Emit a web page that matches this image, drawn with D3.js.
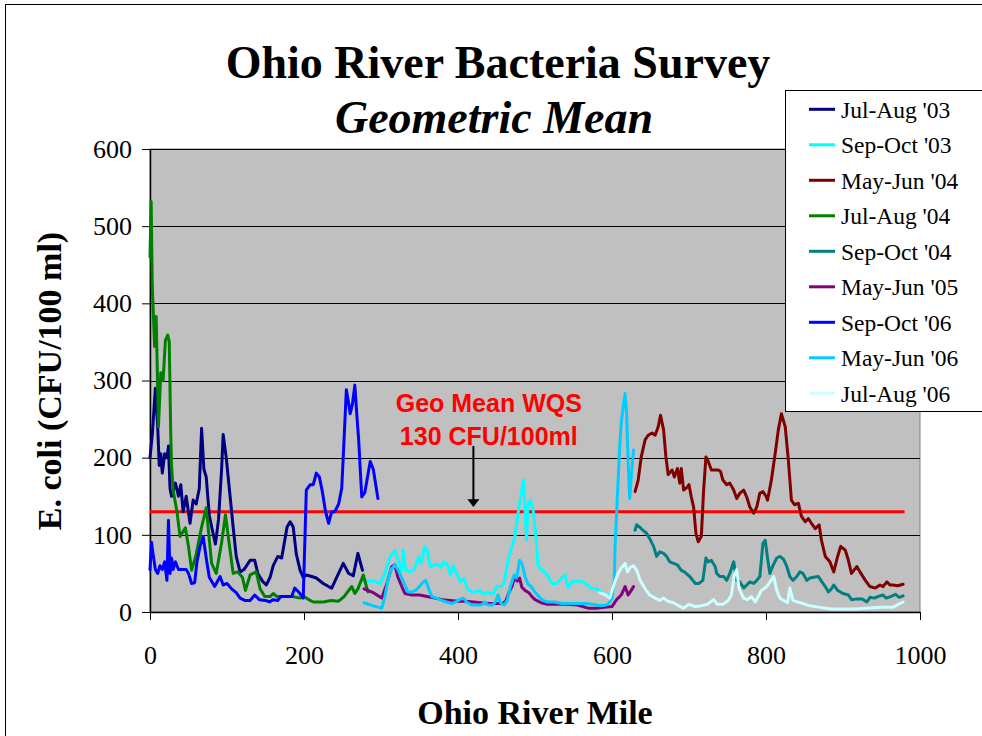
<!DOCTYPE html>
<html><head><meta charset="utf-8">
<script src="https://cdn.jsdelivr.net/npm/d3@7/dist/d3.min.js"></script>
<style>
html,body{margin:0;padding:0;background:#fff;}
svg{display:block;}
</style></head>
<body>
<svg id="chart" width="982" height="736"></svg>
<script>
// ---------- data (river mile, E. coli geometric mean) ----------
const seriesNames = ["Jul-Aug '03","Sep-Oct '03","May-Jun '04","Jul-Aug '04","Sep-Oct '04","May-Jun '05","Sep-Oct '06","May-Jun '06","Jul-Aug '06"];
const seriesColors = ["#000080","#00FFFF","#800000","#008000","#008080","#800080","#0000FF","#00CCFF","#CCFFFF"];

const julAug03 = [[0,200],[3,230],[7,290],[10,240],[12,190],[14,205],[16,180],[19,205],[22,200],[24,215],[26,160],[28,150],[31,160],[33,167],[37,150],[40,165],[43,130],[47,150],[52,115],[56,145],[60,140],[64,160],[67,238],[70,185],[73,175],[77,125],[81,106],[85,88],[89,120],[93,185],[95,230],[99,200],[104,150],[108,110],[112,72],[117,52],[122,55],[130,67],[136,67],[140,50],[146,40],[151,35],[156,45],[160,60],[166,72],[171,70],[178,110],[182,117],[186,110],[190,75],[195,54],[199,45],[203,48],[210,46],[216,44],[225,37],[232,33],[236,31],[242,44],[251,63],[258,50],[264,47],[270,76],[276,54]];

const sepOct03 = [[278,40],[290,40],[299,37],[305,50],[312,72],[318,80],[323,65],[327,54],[329,80],[332,55],[337,52],[343,55],[346,63],[349,72],[352,63],[357,85],[360,80],[364,59],[368,60],[373,62],[378,58],[381,65],[386,62],[390,48],[394,60],[399,48],[403,39],[408,43],[412,30],[418,26],[424,26],[428,28],[433,24],[440,25],[446,24],[450,33],[456,33],[460,38],[465,67],[470,85],[474,98],[478,128],[483,158],[485,171],[487,132],[489,93],[491,141],[494,145],[498,130],[501,100],[504,60],[510,54],[516,48],[522,37],[528,37],[534,43],[539,48],[543,32],[549,40],[555,40],[561,40],[568,35],[574,30],[580,30],[589,24],[594,22],[597,22]];

const mayJun04 = [[630,156],[634,171],[638,201],[643,223],[647,229],[652,232],[656,229],[660,240],[663,255],[667,236],[670,201],[673,178],[678,184],[681,175],[685,186],[688,167],[690,186],[693,158],[698,162],[700,165],[703,149],[706,136],[709,102],[712,91],[716,98],[719,158],[722,201],[725,195],[729,184],[734,184],[738,184],[741,182],[744,171],[749,165],[753,167],[758,158],[762,147],[766,154],[771,158],[775,149],[779,136],[784,128],[788,136],[792,154],[796,156],[800,150],[802,145],[807,171],[812,206],[816,236],[820,257],[825,240],[829,197],[833,145],[837,139],[842,141],[846,124],[851,117],[855,121],[859,115],[864,108],[869,113],[872,93],[877,72],[883,65],[888,52],[893,72],[897,85],[903,80],[907,67],[911,50],[918,59],[922,52],[929,41],[935,33],[942,31],[948,35],[952,33],[957,39],[961,35],[965,35],[971,34],[978,36]];

const julAug04 = [[0,460],[1.5,532],[3,420],[4,396],[6,344],[8,383],[11,240],[14,310],[17,300],[20,352],[23,359],[25,350],[27,227],[28,190],[30,158],[35,130],[39,98],[46,109],[50,85],[54,54],[60,75],[67,110],[73,135],[75,115],[80,63],[86,50],[93,90],[98,126],[102,95],[108,50],[114,52],[120,45],[124,28],[130,48],[138,52],[143,30],[149,20],[156,20],[160,24],[165,20],[175,20],[185,20],[195,18],[200,20],[208,15],[212,13],[225,13],[235,15],[245,14],[252,20],[262,33],[266,24],[270,30],[277,48],[283,26]];

const sepOct04 = [[630,106],[632,113],[636,110],[640,106],[645,102],[649,95],[654,85],[658,72],[662,78],[667,76],[671,72],[675,65],[680,63],[685,61],[690,54],[694,52],[701,46],[708,37],[713,37],[718,41],[722,70],[725,65],[729,67],[734,59],[736,50],[740,46],[745,46],[749,41],[753,50],[758,65],[762,41],[766,39],[771,31],[775,35],[779,39],[784,37],[788,41],[792,46],[796,89],[799,93],[802,70],[805,50],[809,60],[814,70],[818,72],[823,68],[827,59],[831,46],[835,41],[840,46],[844,52],[848,50],[853,41],[857,44],[862,45],[868,46],[872,40],[877,33],[881,26],[885,30],[888,35],[893,28],[900,24],[907,22],[911,16],[918,17],[925,17],[931,13],[935,19],[941,18],[945,20],[952,22],[956,18],[962,20],[968,23],[973,19],[978,21]];

const mayJun05 = [[278,30],[290,25],[301,18],[308,38],[314,59],[318,61],[322,45],[327,33],[331,24],[340,22],[350,22],[360,20],[370,18],[380,16],[390,15],[400,14],[410,14],[420,13],[430,12],[440,11],[450,11],[458,11],[462,14],[466,25],[470,33],[474,46],[477,40],[480,44],[483,32],[487,28],[492,25],[496,20],[500,16],[508,12],[516,10],[525,10],[540,10],[555,9],[569,5],[580,5],[590,6],[600,7],[606,16],[612,22],[617,33],[621,22],[625,28],[628,33]];

const sepOct06 = [[0,55],[2,90],[4,75],[7,55],[10,50],[13,60],[16,55],[19,65],[22,41],[24,119],[26,50],[28,70],[30,55],[33,65],[37,55],[42,55],[47,55],[50,50],[54,37],[58,38],[61,65],[65,85],[69,98],[73,70],[77,45],[84,33],[91,46],[95,35],[100,37],[106,30],[112,25],[117,18],[123,15],[130,15],[136,22],[142,16],[150,15],[155,13],[160,16],[166,15],[170,20],[177,20],[184,20],[188,31],[193,26],[199,18],[203,158],[208,165],[212,165],[216,180],[220,175],[224,155],[228,130],[232,115],[236,130],[240,130],[245,140],[249,160],[252,223],[255,288],[258,270],[260,257],[263,270],[266,294],[269,250],[271,223],[275,149],[279,155],[286,195],[290,185],[296,147]];

const mayJun06 = [[278,12],[290,8],[301,5],[305,20],[309,41],[313,55],[318,61],[322,55],[327,44],[331,35],[335,26],[340,26],[345,28],[349,32],[355,39],[358,41],[362,30],[366,20],[372,18],[379,15],[385,13],[392,11],[397,13],[402,16],[407,18],[411,13],[418,9],[424,9],[430,9],[435,13],[439,9],[445,9],[448,12],[452,22],[455,12],[460,9],[464,15],[468,33],[473,48],[476,44],[480,67],[483,63],[487,46],[491,36],[495,33],[499,27],[505,20],[510,15],[516,13],[525,13],[535,11],[545,11],[555,11],[565,11],[575,10],[585,8],[593,9],[597,13],[600,18],[603,41],[604,85],[606,128],[608,171],[610,214],[612,245],[615,270],[617,283],[619,257],[621,193],[623,147],[625,175],[628,210]];

const julAug06 = [[584,25],[592,22],[597,18],[604,40],[608,50],[612,57],[617,63],[620,52],[624,58],[628,60],[632,54],[637,40],[643,30],[649,22],[656,18],[662,15],[667,18],[672,14],[680,12],[687,8],[693,5],[700,10],[708,7],[716,8],[724,10],[732,16],[737,10],[744,10],[751,15],[755,22],[759,48],[762,55],[765,30],[771,18],[776,16],[781,20],[786,13],[791,22],[794,28],[800,32],[806,40],[810,46],[814,28],[818,18],[823,15],[828,12],[831,31],[835,15],[841,13],[848,11],[857,8],[870,6],[885,4],[900,4],[915,4],[930,5],[950,6],[965,6],[972,10],[978,13]];

const seriesData = [julAug03, sepOct03, mayJun04, julAug04, sepOct04, mayJun05, sepOct06, mayJun06, julAug06];

const xTicks = [0,200,400,600,800,1000];
const yTicks = [0,100,200,300,400,500,600];
const wqsValue = 130;
const wqsRange = [0,980];
const wqsLabel = ["Geo Mean WQS","130 CFU/100ml"];

// ---------- layout ----------
const svg = d3.select("#chart");
const x = d3.scaleLinear().domain([0,1000]).range([150,920]);
const y = d3.scaleLinear().domain([0,600]).range([612,149]);
const serif = "'Liberation Serif','Times New Roman',serif";
const sans = "'Liberation Sans',Arial,sans-serif";

// outer frame
svg.append("rect").attr("x",5.5).attr("y",4.5).attr("width",1000).attr("height",800)
  .attr("fill","#fff").attr("stroke","#000").attr("stroke-width",1);

// plot background
svg.append("rect").attr("x",x(0)).attr("y",y(600)).attr("width",x(1000)-x(0)).attr("height",y(0)-y(600))
  .attr("fill","#C0C0C0").attr("stroke","#808080").attr("stroke-width",1);

// gridlines
svg.append("g").selectAll("line").data(yTicks.filter(d=>d>0)).join("line")
  .attr("x1",x(0)).attr("x2",x(1000))
  .attr("y1",d=>Math.round(y(d))+0.5).attr("y2",d=>Math.round(y(d))+0.5)
  .attr("stroke","#000").attr("stroke-width",1);

// axes
const xAxis = svg.append("g").attr("transform",`translate(0,${y(0)})`)
  .call(d3.axisBottom(x).tickValues(xTicks).tickFormat(d3.format("d")).tickSize(8).tickPadding(26).tickSizeOuter(0));
const yAxis = svg.append("g").attr("transform",`translate(${x(0)},0)`)
  .call(d3.axisLeft(y).tickValues(yTicks).tickFormat(d3.format("d")).tickSize(8).tickPadding(10).tickSizeOuter(0));
[xAxis,yAxis].forEach(g=>{
  g.selectAll("path.domain").attr("stroke","#000").attr("stroke-width",1.5);
  g.selectAll(".tick line").attr("stroke","#000");
  g.selectAll("text").attr("font-family",serif).attr("font-size",26).attr("fill","#000");
});

// standard line
svg.append("line").attr("x1",x(wqsRange[0])).attr("x2",x(wqsRange[1]))
  .attr("y1",y(wqsValue)).attr("y2",y(wqsValue))
  .attr("stroke","#FF0000").attr("stroke-width",3);

// series
const line = d3.line().x(d=>x(d[0])).y(d=>y(d[1]));
svg.append("g").selectAll("path").data(seriesData).join("path")
  .attr("d",line).attr("fill","none")
  .attr("stroke",(d,i)=>seriesColors[i]).attr("stroke-width",3)
  .attr("stroke-linejoin","round").attr("stroke-linecap","round");

// annotation
svg.append("text").attr("x",x(440)).attr("y",y(259)).attr("text-anchor","middle")
  .attr("font-family",sans).attr("font-weight","bold").attr("font-size",25).attr("fill","#FF0000").text(wqsLabel[0]);
svg.append("text").attr("x",x(440)).attr("y",y(217)).attr("text-anchor","middle")
  .attr("font-family",sans).attr("font-weight","bold").attr("font-size",25).attr("fill","#FF0000").text(wqsLabel[1]);
svg.append("line").attr("x1",x(420)).attr("x2",x(420)).attr("y1",y(215)).attr("y2",y(145))
  .attr("stroke","#000").attr("stroke-width",2);
svg.append("path")
  .attr("d",`M${x(420)-6},${y(146)} L${x(420)+6},${y(146)} L${x(420)},${y(136)} Z`).attr("fill","#000");

// titles
svg.append("text").attr("x",498).attr("y",78).attr("text-anchor","middle")
  .attr("font-family",serif).attr("font-weight","bold").attr("font-size",46).text("Ohio River Bacteria Survey");
svg.append("text").attr("x",494).attr("y",133).attr("text-anchor","middle")
  .attr("font-family",serif).attr("font-weight","bold").attr("font-style","italic").attr("font-size",46).text("Geometric Mean");
svg.append("text").attr("transform","translate(61,381) rotate(-90)").attr("text-anchor","middle")
  .attr("font-family",serif).attr("font-weight","bold").attr("font-size",34).text("E. coli (CFU/100 ml)");
svg.append("text").attr("x",535).attr("y",724).attr("text-anchor","middle")
  .attr("font-family",serif).attr("font-weight","bold").attr("font-size",34).text("Ohio River Mile");

// legend
const lg = svg.append("g");
lg.append("rect").attr("x",785.5).attr("y",90.5).attr("width",260).attr("height",321)
  .attr("fill","#fff").attr("stroke","#000").attr("stroke-width",1);
const rows = lg.selectAll("g.row").data(seriesNames).join("g").attr("class","row")
  .attr("transform",(d,i)=>`translate(0,${109.3+i*35.5})`);
rows.append("line").attr("x1",809).attr("x2",835).attr("y1",0).attr("y2",0)
  .attr("stroke",(d,i)=>seriesColors[i]).attr("stroke-width",3);
rows.append("text").attr("x",841).attr("y",8.5).attr("font-family",serif).attr("font-size",23.5).text(d=>d);
</script>
</body></html>
